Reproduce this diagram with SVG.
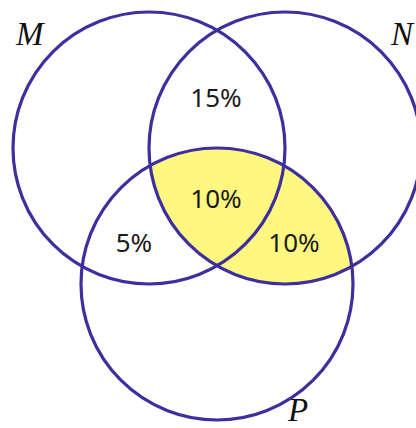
<svg xmlns="http://www.w3.org/2000/svg" width="416" height="428" viewBox="0 0 416 428">
<style>
.c{fill:none;stroke:#3d2f9e;stroke-width:3.2}
.v{font-family:"Noto Sans",sans-serif;font-size:26px;fill:#1a1a1a;text-anchor:middle}
.l{font-family:"Liberation Serif",serif;font-style:italic;font-size:33px;fill:#111}
</style>
<rect width="416" height="428" fill="#fff"/>
<g id="region-NP">
<path d="M150.14,165.57 A136,136 0 0 1 351.86,266.43 A136,136 0 0 1 150.14,165.57 Z" fill="#fff780"/>
</g>
<g id="M"><circle class="c" cx="149" cy="148" r="136"/><text class="l" x="16" y="45">M</text></g>
<g id="N"><circle class="c" cx="285" cy="148" r="136"/><text class="l" x="391" y="45">N</text></g>
<g id="P"><circle class="c" cx="217" cy="284" r="136"/><text class="l" x="288" y="421">P</text></g>
<g id="values">
<text class="v" x="216" y="107">15%</text>
<text class="v" x="216" y="208">10%</text>
<text class="v" x="134" y="252">5%</text>
<text class="v" x="294" y="252">10%</text>
</g>
</svg>
